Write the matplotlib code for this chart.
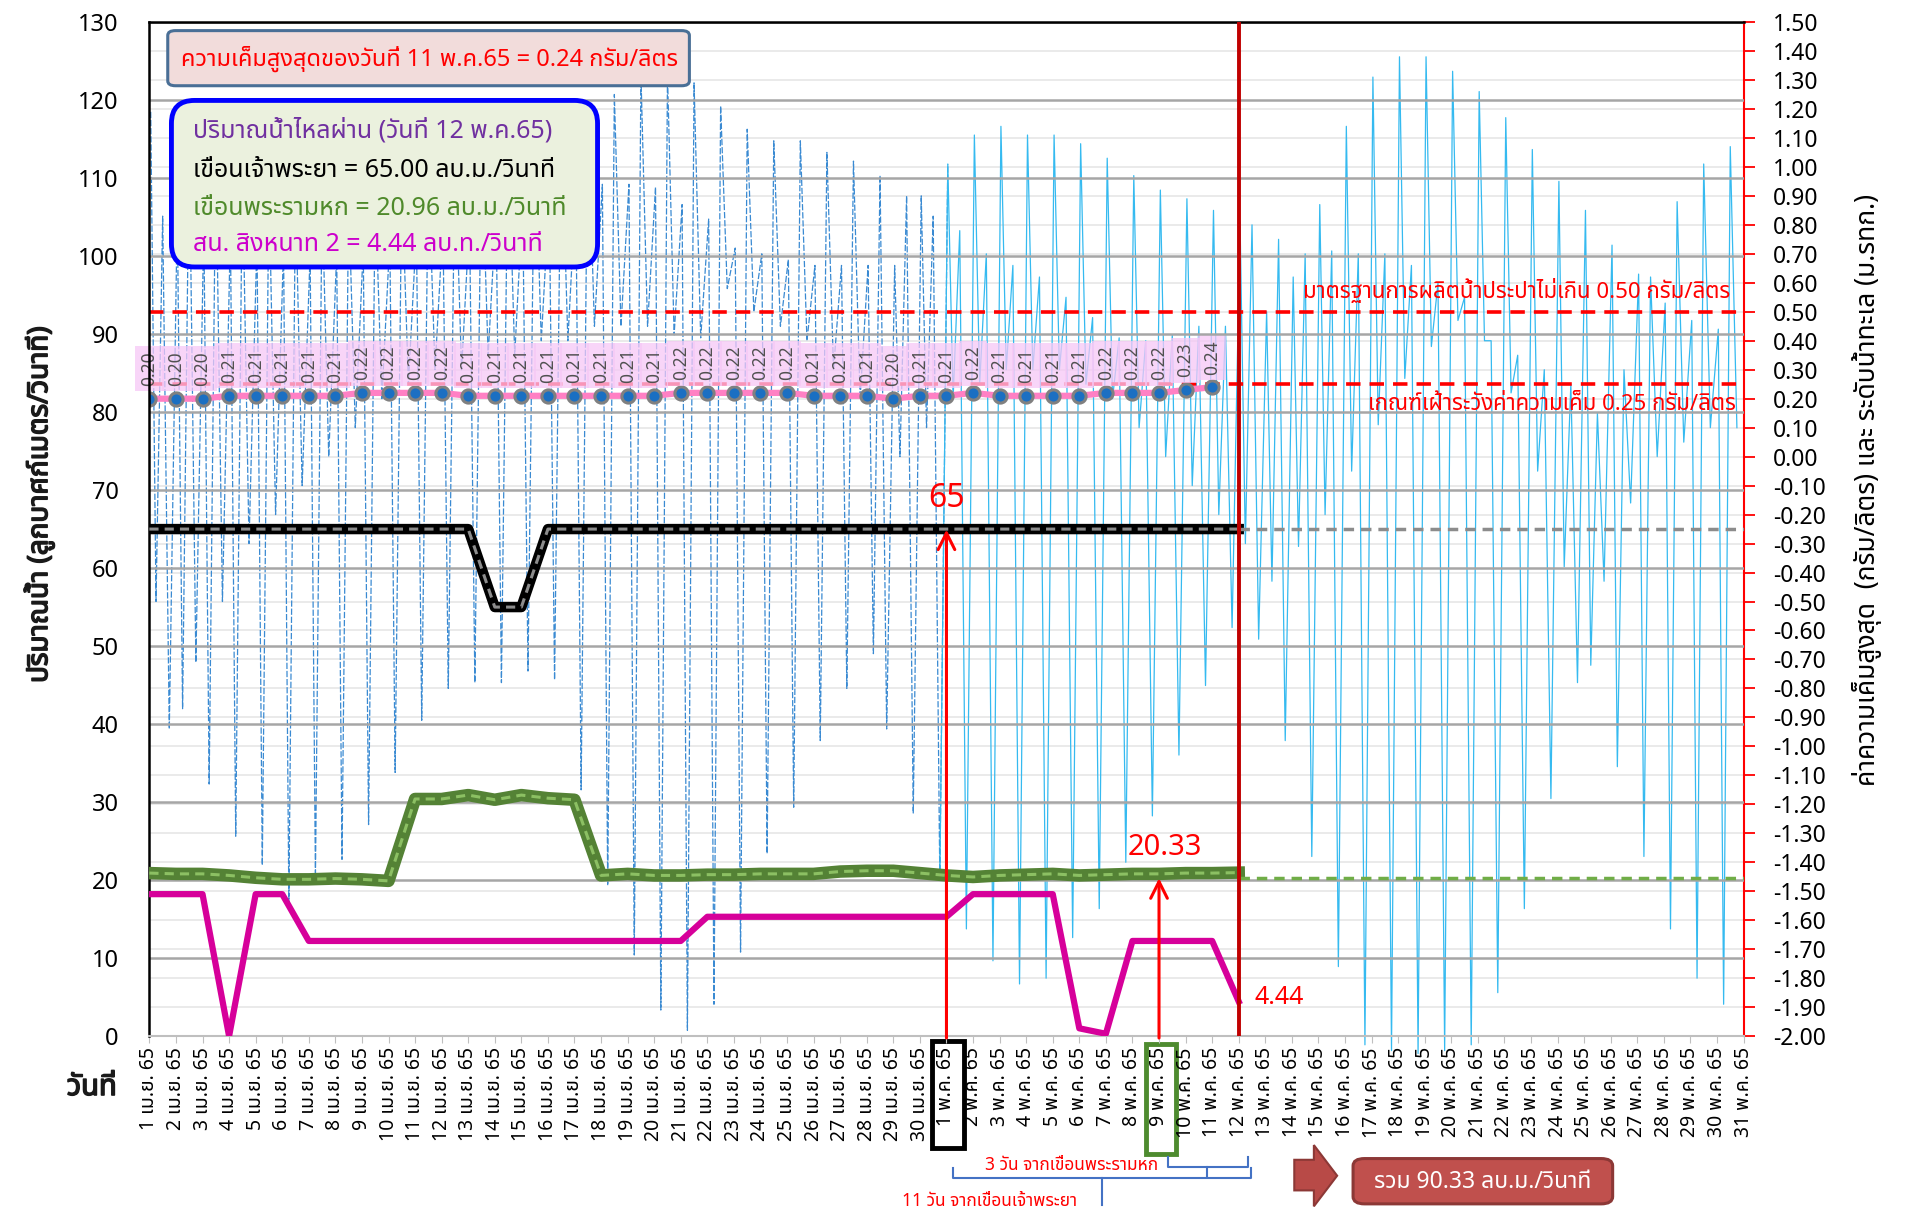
import numpy as np
import matplotlib
matplotlib.use('Agg')
import matplotlib.pyplot as plt
import matplotlib.font_manager as fm
import matplotlib.transforms as mtransforms
import matplotlib.patheffects as pe
from matplotlib.ft2font import FT2Font
from matplotlib.patches import FancyBboxPatch, Rectangle, Polygon
from matplotlib.lines import Line2D


# pick a font that has Thai glyphs
def has_thai(path):
    try:
        return 0x0E01 in FT2Font(path).get_charmap()
    except Exception:
        return False


thai_names = sorted({f.name for f in fm.fontManager.ttflist if has_thai(f.fname)})
preferred = ['Tahoma', 'Leelawadee UI', 'Noto Sans Thai', 'Noto Sans Thai UI',
             'Loma', 'Garuda', 'Sarabun', 'Norasi']
thai_font = next((n for n in preferred if n in thai_names),
                 thai_names[0] if thai_names else None)
plt.rcParams['font.family'] = ([thai_font] if thai_font else []) + ['DejaVu Sans']
plt.rcParams['axes.unicode_minus'] = False

# ---------------- data ----------------
# days 1..61 = 1 Apr 65 .. 31 May 65
day_labels = ([f'{d} เม.ย. 65' for d in range(1, 31)] +
              [f'{d} พ.ค. 65' for d in range(1, 32)])
days_all = np.arange(1, 62)

# discharge (m3/s), 1 Apr .. 12 May
days_flow = np.arange(1, 43)
chaophraya = [65, 65, 65, 65, 65, 65, 65, 65, 65, 65,
              65, 65, 65, 55, 55, 65, 65, 65, 65, 65,
              65, 65, 65, 65, 65, 65, 65, 65, 65, 65,
              65, 65, 65, 65, 65, 65, 65, 65, 65, 65,
              65, 65]
pasak = [20.9, 20.8, 20.8, 20.6, 20.3, 20.1, 20.1, 20.2, 20.1, 19.9,
         30.4, 30.4, 30.9, 30.3, 30.9, 30.5, 30.3, 20.6, 20.8, 20.6,
         20.6, 20.7, 20.7, 20.8, 20.8, 20.8, 21.1, 21.2, 21.2, 20.9,
         20.6, 20.4, 20.6, 20.7, 20.8, 20.6, 20.7, 20.8, 20.8, 20.9,
         20.9, 20.96]
singhanat = [18.2, 18.2, 18.2, 0.0, 18.2, 18.2, 12.2, 12.2, 12.2, 12.2,
             12.2, 12.2, 12.2, 12.2, 12.2, 12.2, 12.2, 12.2, 12.2, 12.2,
             12.2, 15.3, 15.3, 15.3, 15.3, 15.3, 15.3, 15.3, 15.3, 15.3,
             15.3, 18.2, 18.2, 18.2, 18.2, 1.0, 0.3, 12.2, 12.2, 12.2,
             12.2, 4.44]

# assumed flows 12 May .. 31 May
days_fc = np.arange(42, 62)
chaophraya_fc = [65, 65, 65, 65, 65, 65, 65, 65, 65, 65,
                 65, 65, 65, 65, 65, 65, 65, 65, 65, 65]
pasak_fc = [20.33, 20.33, 20.33, 20.33, 20.33, 20.33, 20.33, 20.33, 20.33, 20.33,
            20.33, 20.33, 20.33, 20.33, 20.33, 20.33, 20.33, 20.33, 20.33, 20.33]

# daily max salinity (g/l), 1 Apr .. 11 May
days_sal = np.arange(1, 42)
salinity = [0.20, 0.20, 0.20, 0.21, 0.21, 0.21, 0.21, 0.21, 0.22, 0.22,
            0.22, 0.22, 0.21, 0.21, 0.21, 0.21, 0.21, 0.21, 0.21, 0.21,
            0.22, 0.22, 0.22, 0.22, 0.22, 0.21, 0.21, 0.21, 0.20, 0.21,
            0.21, 0.22, 0.21, 0.21, 0.21, 0.21, 0.22, 0.22, 0.22, 0.23,
            0.24]

# sea level extremes (m MSL), per day: high a, low a, high b, low b
tide_high_a = [1.19, 0.85, 0.80, 0.78, 0.75, 0.72, 0.70, 0.70, 0.72, 0.75,
               0.78, 0.80, 0.82, 0.85, 0.88, 0.90, 0.92, 0.94, 0.94, 0.93,
               0.87, 0.82, 0.72, 0.70, 0.68, 0.66, 0.66, 0.66, 0.66, 0.90,
               1.01, 1.11, 1.14, 1.11, 1.11, 1.08, 1.03, 0.97, 0.92, 0.89,
               0.85, 0.81, 0.50, 0.62, 0.87, 1.14, 1.31, 1.38, 1.38, 1.33,
               1.26, 1.17, 1.06, 0.95, 0.85, 0.73, 0.63, 0.53, 0.47, 0.44,
               0.45]
tide_low_a = [-0.50, -0.87, -1.13, -1.31, -1.41, -1.54, -1.45, -1.39, -1.27, -1.09,
              -0.91, -0.80, -0.78, -0.78, -0.74, -0.77, -1.15, -1.48, -1.72, -1.91,
              -1.98, -1.89, -1.71, -1.37, -1.21, -0.98, -0.80, -0.68, 0.00, 0.10,
              0.20, 0.25, 0.30, 0.30, 0.30, 0.25, 0.20, 0.10, 0.00, -0.10,
              -0.20, -0.30, -0.43, -0.31, -0.20, -0.05, 0.11, 0.27, 0.38, 0.47,
              0.40, 0.22, -0.05, -0.38, -0.72, -1.07, -1.38, -1.63, -1.80, -1.89,
              -1.90]
tide_high_b = [0.83, 1.10, 1.05, 1.00, 0.95, 0.92, 0.90, 0.90, 0.92, 0.95,
               1.00, 1.05, 1.08, 1.12, 1.15, 1.18, 1.20, 1.25, 1.32, 1.32,
               1.29, 1.21, 1.13, 1.09, 1.09, 1.05, 1.02, 0.97, 0.90, 0.83,
               0.78, 0.70, 0.66, 0.62, 0.55, 0.48, 0.41, 0.40, 0.42, 0.45,
               0.45, 0.80, 0.75, 0.70, 0.71, 0.70, 0.70, 0.66, 0.60, 0.55,
               0.40, 0.35, 0.30, 0.25, 0.15, 0.30, 0.62, 0.88, 1.01, 1.07,
               1.00]
tide_low_b = [-0.94, -0.71, -0.50, -0.30, -0.20, -0.10, 0.00, 0.10, 0.20, 0.25,
              0.30, 0.30, 0.35, 0.35, 0.40, 0.40, 0.45, 0.45, 0.45, 0.42,
              0.41, 0.58, 0.50, 0.45, 0.40, 0.30, 0.20, -0.94, -1.23, -1.46,
              -1.63, -1.74, -1.82, -1.80, -1.66, -1.56, -1.40, -1.24, -1.03, -0.79,
              -0.59, -0.63, -0.98, -1.38, -1.76, -2.03, -2.05, -2.06, -2.05, -2.03,
              -1.85, -1.56, -1.18, -0.78, -0.43, -0.16, 0.00, 0.05, 0.10, 0.10,
              0.10]

# ---------------- figure ----------------
fig = plt.figure(figsize=(19.2, 12.1), dpi=100)
ax = fig.add_axes([0.0778, 0.1437, 0.8303, 0.8381])
ax2 = ax.twinx()
ax.set_zorder(ax2.get_zorder() + 1)
ax.patch.set_visible(False)

ax.set_xlim(1, 61)
ax.set_ylim(0, 130)
ax2.set_ylim(-2.0, 1.5)

# grids
ax2.set_axisbelow(True)
ax2.set_yticks(np.arange(-2.0, 1.501, 0.1))
ax2.yaxis.set_major_formatter(plt.FuncFormatter(lambda v, p: f'{v:.2f}'))
ax2.grid(axis='y', color='#E8E8E8', lw=1.3)
ax2.grid(axis='x', color='#D9D9D9', lw=1.0)
ax.set_yticks(np.arange(0, 131, 10))
ax.grid(axis='y', color='#A6A6A6', lw=1.8)

# sea level (tide)
tide_t = np.column_stack([days_all + 0.05, days_all + 0.25,
                          days_all + 0.5, days_all + 0.75]).ravel()
tide_v = np.column_stack([tide_high_a, tide_low_a, tide_high_b, tide_low_b]).ravel()
keep = tide_t <= 61
obs = keep & (tide_t <= 31.05)
fc = keep & (tide_t >= 30.75)
ax2.plot(tide_t[obs], tide_v[obs], color='#3A8AD2', lw=0.9, ls=(0, (5, 1.5)),
         clip_on=False, zorder=2)
ax2.plot(tide_t[fc], tide_v[fc], color='#35BAF0', lw=0.9, clip_on=False, zorder=2)

# salinity criteria lines
ax2.axhline(0.50, color='red', lw=2.6, ls=(0, (4, 2.5)), zorder=4)
ax2.axhline(0.25, color='red', lw=2.6, ls=(0, (4, 2.5)), zorder=4)
ax2.text(60.5, 0.53, 'มาตรฐานการผลิตน้ำประปาไม่เกิน 0.50 กรัม/ลิตร', ha='right',
         va='bottom', color='red', fontsize=16, zorder=6)
ax2.text(60.7, 0.18, 'เกณฑ์เฝ้าระวังค่าความเค็ม 0.25 กรัม/ลิตร', ha='right',
         va='center', color='red', fontsize=16, zorder=6)

# salinity
ax2.plot(days_sal, salinity, color='#FF80C4', lw=4.5, zorder=5)
ax2.plot(days_sal, salinity, ls='none', marker='o', ms=9.5, mfc='#1B6FC2',
         mec='#808080', mew=2.2, zorder=6)
for d, s in zip(days_sal, salinity):
    ax2.annotate(f'{s:.2f}', (d, s), xytext=(0, 9), textcoords='offset points',
                 rotation=90, ha='center', va='bottom', fontsize=12.5, color='#505050',
                 zorder=6,
                 bbox=dict(boxstyle='square,pad=0.3', fc='#F6C8F6', ec='none', alpha=0.75))

# discharges
ax.plot(days_flow, pasak, color='#548235', lw=9, solid_joinstyle='round', zorder=3)
ax.plot(days_flow, pasak, color='#8CC063', lw=2.2, ls=(0, (3, 2)), zorder=3)
ax.plot(days_fc, pasak_fc, color='#70AD47', lw=2.5, ls=(0, (3, 2)), zorder=3)
ax.plot(days_flow, chaophraya, color='black', lw=7.5, zorder=3)
ax.plot(days_flow, chaophraya, color='#8C8C8C', lw=2.2, ls=(0, (3, 2)), zorder=3)
ax.plot(days_fc, chaophraya_fc, color='#8C8C8C', lw=2.5, ls=(0, (3, 2)), zorder=3)
ax.plot(days_flow, singhanat, color='#D6009A', lw=4.5, zorder=3)

# 12 May marker
ax.axvline(42, color='#C00000', lw=2.8, zorder=5)

# arrows and values
ax.annotate('', xy=(31, 65.3), xytext=(31, -0.6), annotation_clip=False, zorder=7,
            arrowprops=dict(arrowstyle='->', color='red', lw=2.2, mutation_scale=30))
ax.text(31, 66.8, '65', color='red', fontsize=23, ha='center', va='bottom', zorder=7)
ax.annotate('', xy=(39, 20.6), xytext=(39, -0.6), annotation_clip=False, zorder=7,
            arrowprops=dict(arrowstyle='->', color='red', lw=2.2, mutation_scale=30))
ax.text(39.2, 22.3, '20.33', color='red', fontsize=21, ha='center', va='bottom', zorder=7)
ax.text(42.6, 4.9, '4.44', color='red', fontsize=18, ha='left', va='center', zorder=7)

# axes styling
ax.set_xticks(days_all)
ax.set_xticklabels(day_labels, rotation=90, fontsize=14)
ax.tick_params(axis='x', length=5, color='#BFBFBF', pad=3)
ax.tick_params(axis='y', length=0, labelsize=17, pad=22)
ax2.tick_params(axis='y', colors='red', labelcolor='black', length=8, width=1.3,
                labelsize=16.5, pad=13)
ax.spines['left'].set_color('black')
ax.spines['left'].set_linewidth(1.8)
ax.spines['top'].set_color('black')
ax.spines['top'].set_linewidth(1.8)
ax.spines['bottom'].set_color('#BFBFBF')
ax.spines['bottom'].set_linewidth(1.5)
ax.spines['right'].set_visible(False)
for s in ['left', 'top', 'bottom']:
    ax2.spines[s].set_visible(False)
ax2.spines['right'].set_color('red')
ax2.spines['right'].set_linewidth(1.5)

# boxes round the 1 May and 9 May labels
trans = mtransforms.blended_transform_factory(ax.transData, ax.transAxes)
ax.add_patch(Rectangle((30.45, -0.11), 1.2, 0.105, transform=trans, fill=False,
                       ec='black', lw=3.5, clip_on=False))
ax.add_patch(Rectangle((38.5, -0.116), 1.15, 0.108, transform=trans, fill=False,
                       ec='#4E8B2F', lw=3.5, clip_on=False))

# axis titles (stroke imitates the bold face)
bold = [pe.withStroke(linewidth=1.1, foreground='#1A1A1A')]
fig.text(0.0204, 0.583, 'ปริมาณน้ำ (ลูกบาศก์เมตร/วินาที)', rotation=90, ha='center',
         va='center', fontsize=20, color='#1A1A1A', path_effects=bold)
fig.text(0.9726, 0.595, 'ค่าความเค็มสูงสุด  (กรัม/ลิตร) และ ระดับน้ำทะเล (ม.รทก.)',
         rotation=90, ha='center', va='center', fontsize=19)
fig.text(0.0478, 0.1012, 'วันที่', ha='center', va='center', fontsize=21,
         color='#1A1A1A', path_effects=bold)


# figure-coordinate helper (reference pixels in a 1568x988 frame)
def fx(x):
    return x / 1568


def fy(y):
    return 1 - y / 988


# top box: max salinity
fig.patches.append(FancyBboxPatch((fx(137), fy(70)), fx(563) - fx(137), fy(25) - fy(70),
                                  boxstyle='round,pad=0,rounding_size=0.004',
                                  transform=fig.transFigure, fc='#F2DCDB', ec='#4A6F96',
                                  lw=2.2, zorder=10))
fig.text(fx(351), fy(48), 'ความเค็มสูงสุดของวันที่ 11 พ.ค.65 = 0.24 กรัม/ลิตร',
         ha='center', va='center', color='red', fontsize=17, zorder=11)

# flow box
fig.patches.append(FancyBboxPatch((fx(140), fy(218)), fx(488) - fx(140), fy(82) - fy(218),
                                  boxstyle='round,pad=0,rounding_size=0.012',
                                  mutation_aspect=1920 / 1210,
                                  transform=fig.transFigure, fc='#EBF1DE', ec='#0000FF',
                                  lw=3.5, zorder=10))
box_lines = [('ปริมาณน้ำไหลผ่าน (วันที่ 12 พ.ค.65)', '#7030A0', 107),
             ('เขื่อนเจ้าพระยา = 65.00 ลบ.ม./วินาที', 'black', 139),
             ('เขื่อนพระรามหก = 20.96 ลบ.ม./วินาที', '#4F8A2B', 170),
             ('สน. สิงหนาท 2 = 4.44 ลบ.ท./วินาที', '#CC00CC', 200)]
for txt, col, yy in box_lines:
    fig.text(fx(158), fy(yy), txt, ha='left', va='center', color=col, fontsize=18,
             zorder=11)

# travel-time braces below the axis
brace_col = '#4472C4'
for xs, ys in [([954, 954, 1019, 1019], [945, 953, 953, 945]),
               ([986, 986], [953, 961]),
               ([778, 778, 1022, 1022], [954, 962, 962, 954]),
               ([900, 900], [962, 984])]:
    fig.add_artist(Line2D([fx(v) for v in xs], [fy(v) for v in ys], color=brace_col,
                          lw=1.5, transform=fig.transFigure))
fig.text(fx(875), fy(951), '3 วัน จากเขื่อนพระรามหก', ha='center', va='center',
         color='red', fontsize=12.5)
fig.text(fx(808), fy(981), '11 วัน จากเขื่อนเจ้าพระยา', ha='center', va='center',
         color='red', fontsize=12.5)

# total box with arrow
arrow_pts = [(1057, 947), (1073, 947), (1073, 935), (1092, 960), (1073, 985),
             (1073, 972), (1057, 972)]
fig.patches.append(Polygon([(fx(a), fy(b)) for a, b in arrow_pts], closed=True,
                           transform=fig.transFigure, fc='#B84A47', ec='#8C3836', lw=1.5))
fig.patches.append(FancyBboxPatch((fx(1105), fy(983)), fx(1317) - fx(1105), fy(946) - fy(983),
                                  boxstyle='round,pad=0,rounding_size=0.006',
                                  transform=fig.transFigure, fc='#C0504D', ec='#8C3836',
                                  lw=2.2))
fig.text(fx(1211), fy(965), 'รวม 90.33 ลบ.ม./วินาที', ha='center', va='center',
         color='white', fontsize=16.5)

fig.savefig('out.png', dpi=100)
